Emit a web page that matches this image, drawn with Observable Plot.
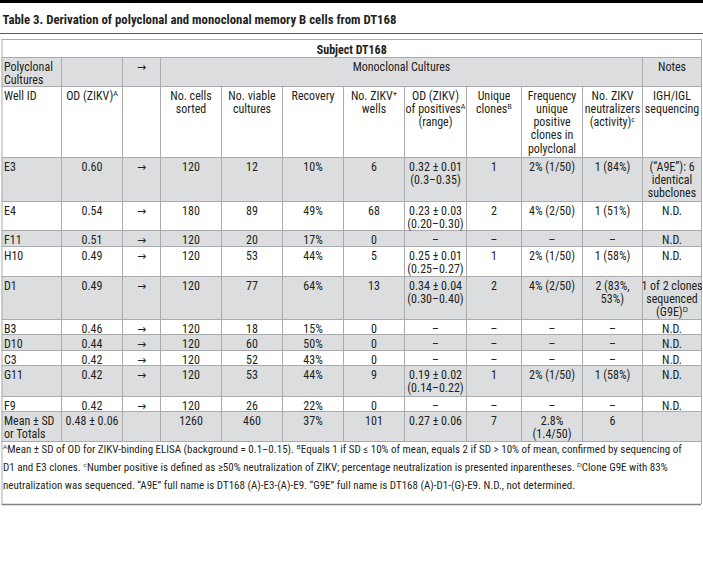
<!DOCTYPE html>
<html><head><meta charset="utf-8">
<script src="https://cdn.jsdelivr.net/npm/d3@7"></script>
<script src="https://cdn.jsdelivr.net/npm/@observablehq/plot@0.6"></script>
<style>body{margin:0;background:#fff}</style>
</head><body><div id="chart"></div>
<script>
// ---- table content ----
const title = "Table 3. Derivation of polyclonal and monoclonal memory B cells from DT168";
const subject = "Subject DT168";
const groupHeaders = ["Polyclonal\nCultures", "→", "Monoclonal Cultures", "Notes"];
const columnHeaders = ["Well ID", "OD (ZIKV)ᴬ", "", "No. cells\nsorted", "No. viable\ncultures", "Recovery",
  "No. ZIKV⁺\nwells", "OD (ZIKV)\nof positivesᴬ\n(range)", "Unique\nclonesᴮ",
  "Frequency\nunique\npositive\nclones in\npolyclonal", "No. ZIKV\nneutralizers\n(activity)ᶜ", "IGH/IGL\nsequencing"];
const wellIds = ["E3", "E4", "F11", "H10", "D1", "B3", "D10", "C3", "G11", "F9", "Mean ± SD\nor Totals"];
const odZikv = ["0.60", "0.54", "0.51", "0.49", "0.49", "0.46", "0.44", "0.42", "0.42", "0.42", "0.48 ± 0.06"];
const arrows = ["→", "→", "→", "→", "→", "→", "→", "→", "→", "→", ""];
const cellsSorted = ["120", "180", "120", "120", "120", "120", "120", "120", "120", "120", "1260"];
const viableCultures = ["12", "89", "20", "53", "77", "18", "60", "52", "53", "26", "460"];
const recovery = ["10%", "49%", "17%", "44%", "64%", "15%", "50%", "43%", "44%", "22%", "37%"];
const zikvWells = ["6", "68", "0", "5", "13", "0", "0", "0", "9", "0", "101"];
const odPositives = ["0.32 ± 0.01\n(0.3–0.35)", "0.23 ± 0.03\n(0.20–0.30)", "–", "0.25 ± 0.01\n(0.25–0.27)",
  "0.34 ± 0.04\n(0.30–0.40)", "–", "–", "–", "0.19 ± 0.02\n(0.14–0.22)", "–", "0.27 ± 0.06"];
const uniqueClones = ["1", "2", "–", "1", "2", "–", "–", "–", "1", "–", "7"];
const frequency = ["2% (1/50)", "4% (2/50)", "–", "2% (1/50)", "4% (2/50)", "–", "–", "–", "2% (1/50)", "–", "2.8%\n(1.4/50)"];
const neutralizers = ["1 (84%)", "1 (51%)", "–", "1 (58%)", "2 (83%,\n53%)", "–", "–", "–", "1 (58%)", "–", "6"];
const notes = ["(“A9E”): 6\nidentical\nsubclones", "N.D.", "N.D.", "N.D.", "1 of 2 clones\nsequenced\n(G9E)ᴰ",
  "N.D.", "N.D.", "N.D.", "N.D.", "N.D.", ""];
const footnotes = [
  "ᴬMean ± SD of OD for ZIKV-binding ELISA (background = 0.1–0.15). ᴮEquals 1 if SD ≤ 10% of mean, equals 2 if SD > 10% of mean, confirmed by sequencing of",
  "D1 and E3 clones. ᶜNumber positive is defined as ≥50% neutralization of ZIKV; percentage neutralization is presented inparentheses. ᴰClone G9E with 83%",
  "neutralization was sequenced. “A9E” full name is DT168 (A)-E3-(A)-E9. “G9E” full name is DT168 (A)-D1-(G)-E9. N.D., not determined."
];

// ---- layout (pixel grid of the table) ----
const W = 703, H = 568;
const colEdges = [1.5, 61, 122, 160, 221, 282, 343, 404, 466, 521, 582, 642, 701];
const headerEdges = [39, 57, 86, 157];
const rowEdges = [157, 201, 230, 246, 276, 319, 334, 350, 365, 396, 411, 441];
const footBottom = 504;
const fs = 12, lh = 1.11;
const pad = 13 - 0.71 * lh * fs;

const columns = [wellIds, odZikv, arrows, cellsSorted, viableCultures, recovery, zikvWells,
  odPositives, uniqueClones, frequency, neutralizers, notes];
const mid = c => (colEdges[c] + colEdges[c + 1]) / 2;

const cells = [];
columnHeaders.forEach((t, c) => cells.push({x: c === 0 ? colEdges[0] + 2 : mid(c), y: headerEdges[2] + pad, text: t, a: c === 0 ? "start" : "middle"}));
columns.forEach((col, c) => col.forEach((t, r) => cells.push({x: c === 0 ? colEdges[0] + 2 : mid(c), y: rowEdges[r] + pad, text: t, a: c === 0 ? "start" : "middle"})));
const groupCells = [
  {x: colEdges[0] + 2, y: headerEdges[1] + pad, text: groupHeaders[0], a: "start"},
  {x: mid(2), y: headerEdges[1] + pad, text: groupHeaders[1], a: "middle"},
  {x: (colEdges[3] + colEdges[11]) / 2, y: headerEdges[1] + pad, text: groupHeaders[2], a: "middle"},
  {x: mid(11), y: headerEdges[1] + pad, text: groupHeaders[3], a: "middle"}
];
const allCells = cells.concat(groupCells);

const shaded = [{y1: headerEdges[1], y2: headerEdges[2]}];
for (let r = 0; r < wellIds.length; r += 2) shaded.push({y1: rowEdges[r], y2: rowEdges[r + 1]});

const hLines = [headerEdges[0], headerEdges[1], headerEdges[2], ...rowEdges];
const vLines = [];
[1, 2, 3, 11].forEach(c => vLines.push({x: colEdges[c], y1: headerEdges[1], y2: headerEdges[2]}));
for (let c = 1; c < colEdges.length - 1; c++) vLines.push({x: colEdges[c], y1: headerEdges[2], y2: rowEdges[rowEdges.length - 1]});
vLines.push({x: colEdges[0], y1: headerEdges[0], y2: footBottom});
vLines.push({x: colEdges[colEdges.length - 1], y1: headerEdges[0], y2: footBottom});

const grid = "#a9abae";
const ink = "#231f20";
const font = "'Liberation Sans Narrow', 'Roboto Condensed', 'DejaVu Sans Condensed', sans-serif";

const chart = Plot.plot({
  width: W, height: H, margin: 0,
  x: {type: "identity", axis: null},
  y: {type: "identity", axis: null},
  style: {fontFamily: font, background: "#fff"},
  marks: [
    Plot.rect([0], {x1: 0, x2: W, y1: 0, y2: 3, fill: "#000"}),
    Plot.rect(shaded, {x1: colEdges[0], x2: colEdges[colEdges.length - 1], y1: "y1", y2: "y2", fill: "#dcddde"}),
    Plot.ruleY([33], {x1: 0, x2: W, stroke: "#58595b", strokeWidth: 1.2}),
    Plot.ruleY(hLines, {x1: colEdges[0], x2: colEdges[colEdges.length - 1], stroke: grid, strokeWidth: 1}),
    Plot.ruleY([footBottom], {x1: colEdges[0], x2: colEdges[colEdges.length - 1], stroke: "#808285", strokeWidth: 1.5}),
    Plot.ruleX(vLines, {x: "x", y1: "y1", y2: "y2", stroke: grid, strokeWidth: 1}),
    Plot.text([title], {x: 2, y: 23, text: d => d, textAnchor: "start", lineAnchor: "bottom", fontSize: 12.8, fontWeight: "bold", fill: ink}),
    Plot.text([subject], {x: (colEdges[0] + colEdges[12]) / 2, y: 53, text: d => d, textAnchor: "middle", lineAnchor: "bottom", fontSize: 12, fontWeight: "bold", fill: ink}),
    Plot.text(allCells.filter(d => d.a === "start"), {x: "x", y: "y", text: "text", textAnchor: "start", lineAnchor: "top", lineHeight: lh, fontSize: fs, fill: ink}),
    Plot.text(allCells.filter(d => d.a === "middle"), {x: "x", y: "y", text: "text", textAnchor: "middle", lineAnchor: "top", lineHeight: lh, fontSize: fs, fill: ink}),
    Plot.text([footnotes.join("\n")], {x: 2.5, y: 440.5, text: d => d, textAnchor: "start", lineAnchor: "top", lineHeight: 1.6, fontSize: 11, fill: ink})
  ]
});
document.getElementById("chart").appendChild(chart);
</script>
</body></html>
